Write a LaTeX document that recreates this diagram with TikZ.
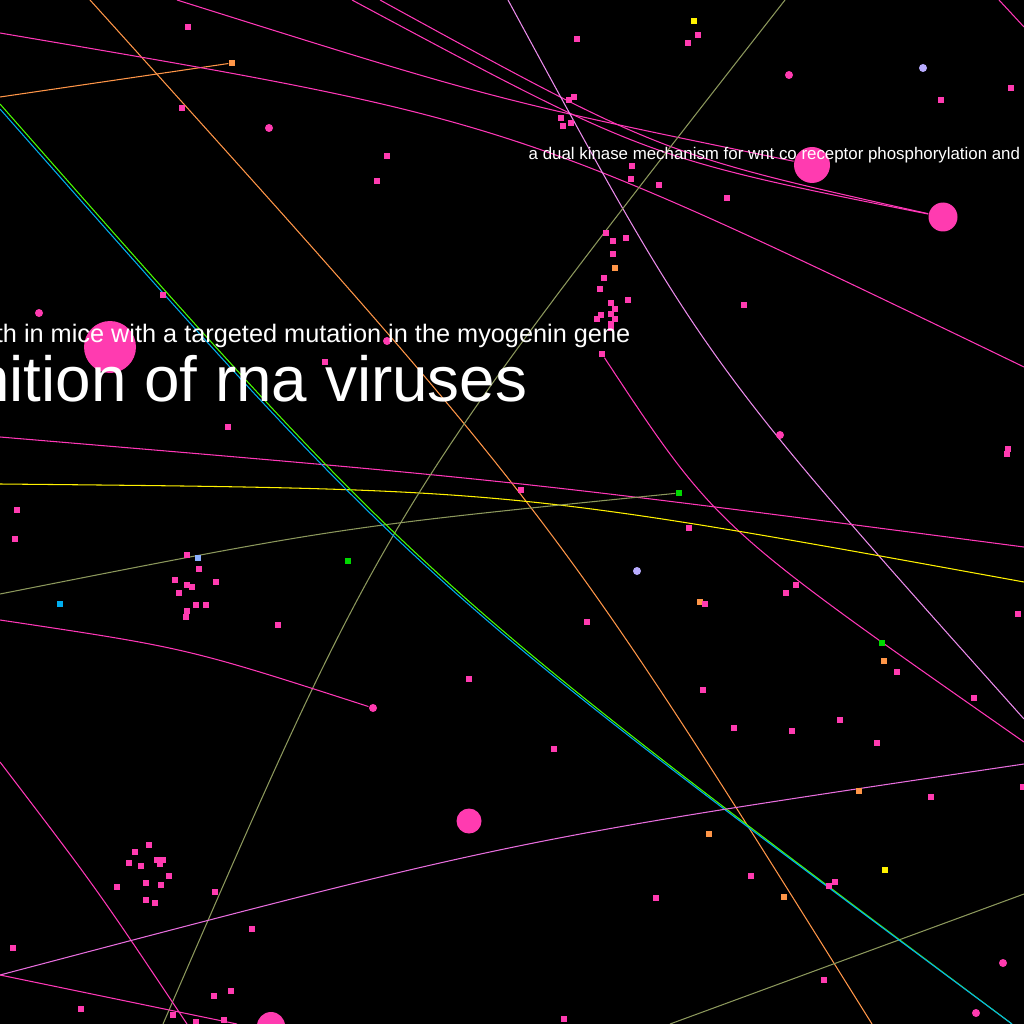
\documentclass[tikz,border=0pt]{standalone}
\usepackage{fontspec}
\setmainfont{Liberation Sans}
\usepackage{tikz}

\definecolor{hotpink}{RGB}{255,59,176}
\definecolor{linepink}{RGB}{255,56,184}
\definecolor{dotorange}{RGB}{255,150,72}
\definecolor{lilac}{RGB}{236,140,236}
\definecolor{violetpink}{RGB}{232,110,222}
\definecolor{olive}{RGB}{140,152,92}
\definecolor{lavender}{RGB}{184,172,255}
\definecolor{skyblue}{RGB}{140,176,255}

\tikzset{
  sq/.style={rectangle, fill=#1, minimum size=0.6mm, inner sep=0pt},
  sq/.default=hotpink,
  rd/.style={circle, fill=#1, minimum size=0.8mm, inner sep=0pt},
  rd/.default=hotpink,
  hub/.style={circle, fill=hotpink, inner sep=0pt},
  link/.style={line width=0.3pt},
  title/.style={text=white, inner sep=0pt}
}

\begin{document}
\begin{tikzpicture}[x=0.1mm, y=-0.1mm]
        \useasboundingbox (0,0) rectangle (1024,1024);
        \fill[black] (0,0) rectangle (1024,1024);
        \clip (0,0) rectangle (1024,1024);

        % Border points
        \coordinate (a1) at (90,0);    \coordinate (a2) at (872,1024);
        \coordinate (b1) at (0,97);
        \coordinate (c1) at (0,33);    \coordinate (c2) at (1024,367);
        \coordinate (q1) at (177,0);
        \coordinate (r1) at (352,0);
        \coordinate (s1) at (380,0);
        \coordinate (t1) at (999,0);   \coordinate (t2) at (1024,27);
        \coordinate (e1) at (508,0);   \coordinate (e2) at (1024,719);
        \coordinate (f2) at (1024,742);
        \coordinate (g1) at (0,437);   \coordinate (g2) at (1024,547);
        \coordinate (h1) at (0,484);   \coordinate (h2) at (1024,582);
        \coordinate (i1) at (0,594);
        \coordinate (j1) at (163,1024); \coordinate (j2) at (785,0);
        \coordinate (k1) at (670,1024); \coordinate (k2) at (1024,894);
        \coordinate (l1) at (0,109);   \coordinate (l3) at (0,104);
        \coordinate (l2) at (1012,1024);
        \coordinate (m1) at (0,620);
        \coordinate (n1) at (0,762);   \coordinate (n2) at (187,1024);
        \coordinate (o1) at (0,975);   \coordinate (o2) at (1024,764);
        \coordinate (p2) at (237,1024);

        % Large nodes
        \node[hub, minimum size=5.2mm] (1) at (110,347) {};
        \node[hub, minimum size=3.6mm] (2) at (812,165) {};
        \node[hub, minimum size=2.9mm] (3) at (943,217) {};
        \node[hub, minimum size=2.5mm] (4) at (469,821) {};
        \node[hub, minimum size=2.8mm] (5) at (271,1026) {};

        % Nodes at link ends
        \node[sq=dotorange] (6) at (232,63) {};
        \node[sq] (7) at (602,354) {};
        \node[sq=green!85!black] (8) at (679,493) {};
        \node[rd] (9) at (373,708) {};

        % Links
        \draw[link, dotorange] (a1) .. controls (552,512) .. (a2);
        \draw[link, dotorange] (b1) -- (6);
        \draw[link, linepink] (c1) .. controls (512,120) .. (c2);
        \draw[link, linepink] (q1) .. controls (495,100) .. (2);
        \draw[link, linepink] (r1) .. controls (647,158) .. (3);
        \draw[link, linepink] (s1) .. controls (661,154) .. (3);
        \draw[link, linepink] (t1) -- (t2);
        \draw[link, lilac] (e1) .. controls (703,360) .. (e2);
        \draw[link, linepink] (7) .. controls (716,527) .. (f2);
        \draw[link, linepink] (g1) .. controls (512,480) .. (g2);
        \draw[link, yellow] (h1) .. controls (512,489) .. (h2);
        \draw[link, olive] (i1) .. controls (340,527) .. (8);
        \draw[link, olive] (j1) .. controls (385,512) .. (j2);
        \draw[link, olive] (k1) -- (k2);
        \draw[link, green!70!yellow] (l3) .. controls (420,581) .. (l2);
        \draw[link, cyan] (l1) .. controls (418,583) .. (l2);
        \draw[link, linepink] (m1) .. controls (187,648) .. (9);
        \draw[link, linepink] (n1) .. controls (97,889) .. (n2);
        \draw[link, violetpink] (o1) .. controls (512,840) .. (o2);
        \draw[link, linepink] (o1) -- (p2);

        % Small nodes, top left
        \node[sq] (10) at (188,27) {};
        \node[sq] (11) at (182,108) {};
        \node[sq] (12) at (387,156) {};
        \node[sq] (13) at (377,181) {};
        \node[sq] (14) at (163,295) {};
        \node[sq] (15) at (325,362) {};
        \node[sq] (16) at (228,427) {};
        \node[sq] (17) at (17,510) {};
        \node[rd] (18) at (269,128) {};
        \node[rd] (19) at (39,313) {};
        \node[rd] (20) at (387,341) {};

        % Small nodes, top right
        \node[sq=yellow] (21) at (694,21) {};
        \node[sq] (22) at (698,35) {};
        \node[sq] (23) at (688,43) {};
        \node[sq] (24) at (577,39) {};
        \node[sq] (25) at (941,100) {};
        \node[sq] (26) at (1011,88) {};
        \node[sq] (27) at (574,97) {};
        \node[sq] (28) at (569,100) {};
        \node[sq] (29) at (561,118) {};
        \node[sq] (30) at (563,126) {};
        \node[sq] (31) at (571,123) {};
        \node[sq] (32) at (632,166) {};
        \node[sq] (33) at (631,179) {};
        \node[sq] (34) at (659,185) {};
        \node[sq] (35) at (727,198) {};
        \node[sq] (36) at (606,233) {};
        \node[sq] (37) at (613,241) {};
        \node[sq] (38) at (626,238) {};
        \node[sq] (39) at (613,254) {};
        \node[sq=dotorange] (40) at (615,268) {};
        \node[sq] (41) at (604,278) {};
        \node[sq] (42) at (600,289) {};
        \node[sq] (43) at (628,300) {};
        \node[sq] (44) at (611,303) {};
        \node[sq] (45) at (615,309) {};
        \node[sq] (46) at (601,315) {};
        \node[sq] (47) at (611,314) {};
        \node[sq] (48) at (597,319) {};
        \node[sq] (49) at (615,319) {};
        \node[sq] (50) at (611,324) {};
        \node[sq] (51) at (611,328) {};
        \node[sq] (52) at (744,305) {};
        \node[sq] (53) at (1008,449) {};
        \node[sq] (54) at (1007,454) {};
        \node[sq] (55) at (521,490) {};
        \node[rd] (56) at (789,75) {};
        \node[rd] (57) at (780,435) {};
        \node[rd=lavender] (58) at (923,68) {};

        % Small nodes, bottom left
        \node[sq] (59) at (15,539) {};
        \node[sq] (60) at (187,555) {};
        \node[sq=skyblue] (61) at (198,558) {};
        \node[sq] (62) at (199,569) {};
        \node[sq] (63) at (175,580) {};
        \node[sq] (64) at (187,585) {};
        \node[sq] (65) at (192,587) {};
        \node[sq] (66) at (216,582) {};
        \node[sq] (67) at (179,593) {};
        \node[sq] (68) at (196,605) {};
        \node[sq] (69) at (206,605) {};
        \node[sq] (70) at (187,611) {};
        \node[sq] (71) at (186,617) {};
        \node[sq=cyan] (72) at (60,604) {};
        \node[sq=green!85!black] (73) at (348,561) {};
        \node[sq] (74) at (278,625) {};
        \node[sq] (75) at (469,679) {};
        \node[sq] (76) at (149,845) {};
        \node[sq] (77) at (135,852) {};
        \node[sq] (78) at (129,863) {};
        \node[sq] (79) at (141,866) {};
        \node[sq] (80) at (157,860) {};
        \node[sq] (81) at (163,860) {};
        \node[sq] (82) at (160,864) {};
        \node[sq] (83) at (169,876) {};
        \node[sq] (84) at (117,887) {};
        \node[sq] (85) at (146,883) {};
        \node[sq] (86) at (161,885) {};
        \node[sq] (87) at (146,900) {};
        \node[sq] (88) at (155,903) {};
        \node[sq] (89) at (215,892) {};
        \node[sq] (90) at (252,929) {};
        \node[sq] (91) at (13,948) {};
        \node[sq] (92) at (231,991) {};
        \node[sq] (93) at (214,996) {};
        \node[sq] (94) at (81,1009) {};
        \node[sq] (95) at (173,1015) {};
        \node[sq] (96) at (224,1020) {};
        \node[sq] (97) at (196,1022) {};

        % Small nodes, bottom right
        \node[sq] (98) at (689,528) {};
        \node[rd=lavender] (99) at (637,571) {};
        \node[sq=dotorange] (100) at (700,602) {};
        \node[sq] (101) at (705,604) {};
        \node[sq] (102) at (587,622) {};
        \node[sq] (103) at (796,585) {};
        \node[sq] (104) at (786,593) {};
        \node[sq] (105) at (1018,614) {};
        \node[sq=green!85!black] (106) at (882,643) {};
        \node[sq=dotorange] (107) at (884,661) {};
        \node[sq] (108) at (897,672) {};
        \node[sq] (109) at (974,698) {};
        \node[sq] (110) at (703,690) {};
        \node[sq] (111) at (734,728) {};
        \node[sq] (112) at (792,731) {};
        \node[sq] (113) at (840,720) {};
        \node[sq] (114) at (877,743) {};
        \node[sq] (115) at (554,749) {};
        \node[sq=dotorange] (116) at (859,791) {};
        \node[sq] (117) at (931,797) {};
        \node[sq] (118) at (1023,787) {};
        \node[sq=dotorange] (119) at (709,834) {};
        \node[sq] (120) at (751,876) {};
        \node[sq=yellow] (121) at (885,870) {};
        \node[sq] (122) at (829,886) {};
        \node[sq] (123) at (835,882) {};
        \node[sq=dotorange] (124) at (784,897) {};
        \node[sq] (125) at (656,898) {};
        \node[sq] (126) at (824,980) {};
        \node[sq] (127) at (564,1019) {};
        \node[rd] (128) at (1003,963) {};
        \node[rd] (129) at (976,1013) {};

        % Titles
        \node[title, anchor=base west, font=\fontsize{4.8pt}{5.8pt}\selectfont] (t-wnt) at (528,160) {a dual kinase mechanism for wnt co receptor phosphorylation and};
        \node[title, anchor=base east, font=\fontsize{7.2pt}{8.6pt}\selectfont] (t-myo) at (631,342) {th in mice with a targeted mutation in the myogenin gene};
        \node[title, anchor=base east, font=\fontsize{18.15pt}{21pt}\selectfont] (t-rna) at (528,401) {nition of rna viruses};

        \end{tikzpicture}
\end{document}
